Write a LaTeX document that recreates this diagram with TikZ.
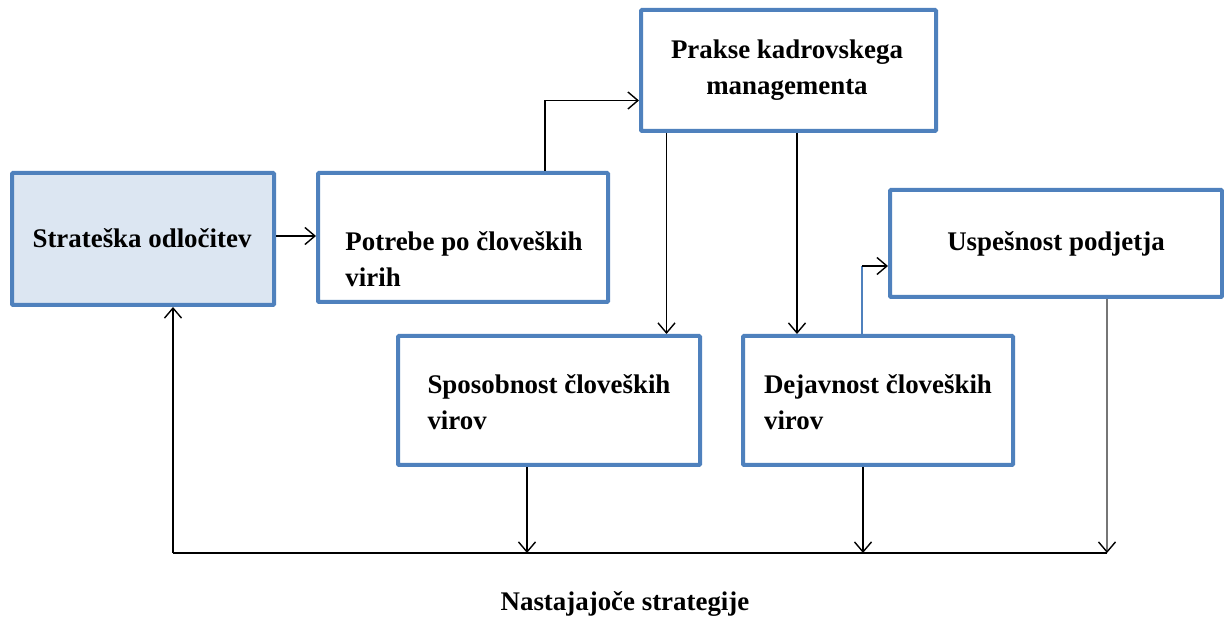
\documentclass[tikz,border=0pt]{standalone}
\usepackage{fontspec}
\setmainfont{Liberation Serif}
\usetikzlibrary{arrows.meta,calc}
\definecolor{boxblue}{HTML}{4F81BD}
\definecolor{boxfill}{HTML}{DCE6F2}
\definecolor{linegray}{HTML}{767676}
\begin{document}
\begin{tikzpicture}[x=1pt,y=-1pt,
  box/.style={draw=boxblue, line width=4pt, rounded corners=1pt, inner sep=0pt, fill=white},
  lbl/.style={font=\fontsize{26.9}{36}\selectfont\bfseries, inner sep=0pt, align=left},
  link/.style={line width=1.4pt, -{Straight Barb[length=10pt,width=17pt,line width=1.4pt,color=black]}},
  plain/.style={line width=1.4pt}]
\useasboundingbox (0,0) rectangle (1224,617);

% boxes
\node[box, fill=boxfill, minimum width=262pt, minimum height=132pt] (sod) at (143,239) {};
\node[box, minimum width=290pt, minimum height=129pt] (pot) at (463,237.5) {};
\node[box, minimum width=295pt, minimum height=121pt] (pra) at (788.5,70.5) {};
\node[box, minimum width=332pt, minimum height=107pt] (usp) at (1056,243.5) {};
\node[box, minimum width=302pt, minimum height=129pt] (spo) at (549,400.5) {};
\node[box, minimum width=270pt, minimum height=129pt] (dej) at (878,400.5) {};

% texts
\node[lbl] (tsod) at (142,238) {Strateška odločitev};
\node[lbl] (tpot) at (464,259) {Potrebe po človeških\\virih};
\node[lbl, align=center] (tpra) at (787,70) {Prakse kadrovskega\\managementa};
\node[lbl] (tusp) at (1056,244) {Uspešnost podjetja};
\node[lbl] (tspo) at (549,402) {Sposobnost človeških\\virov};
\node[lbl] (tdej) at (878,402) {Dejavnost človeških\\virov};
\node[lbl] (tnas) at (625,604) {Nastajajoče strategije};

% feedback line
\coordinate (bl) at (173,553);
\coordinate (br) at (1107,553);

% connectors
\draw[link] (sod.east |- 0,236) -- (pot.west |- 0,236);
\draw[link] ($(pot.north)+(82,0)$) |- ($(pra.west)+(0,30)$);
\draw[link] ($(pra.south)+(-122,0)$) coordinate (pa) -- (pa |- spo.north);
\draw[link] ($(pra.south)+(8.5,0)$) coordinate (pb) -- (pb |- dej.north);
\draw[boxblue, line width=1.4pt] ($(dej.north)+(-16,0)$) coordinate (da) -- (da |- 0,266);
\draw[link] (da |- 0,266) -- (usp.west |- 0,266);
\draw[link] ($(spo.south)+(-22,0)$) coordinate (sa) -- (sa |- bl);
\draw[link] ($(dej.south)+(-15,0)$) coordinate (db) -- (db |- bl);
\draw[link, draw=linegray] (br |- usp.south) -- (br);
\draw[plain] (br) -- (bl);
\draw[link] (bl) -- (bl |- sod.south);
\end{tikzpicture}
\end{document}
